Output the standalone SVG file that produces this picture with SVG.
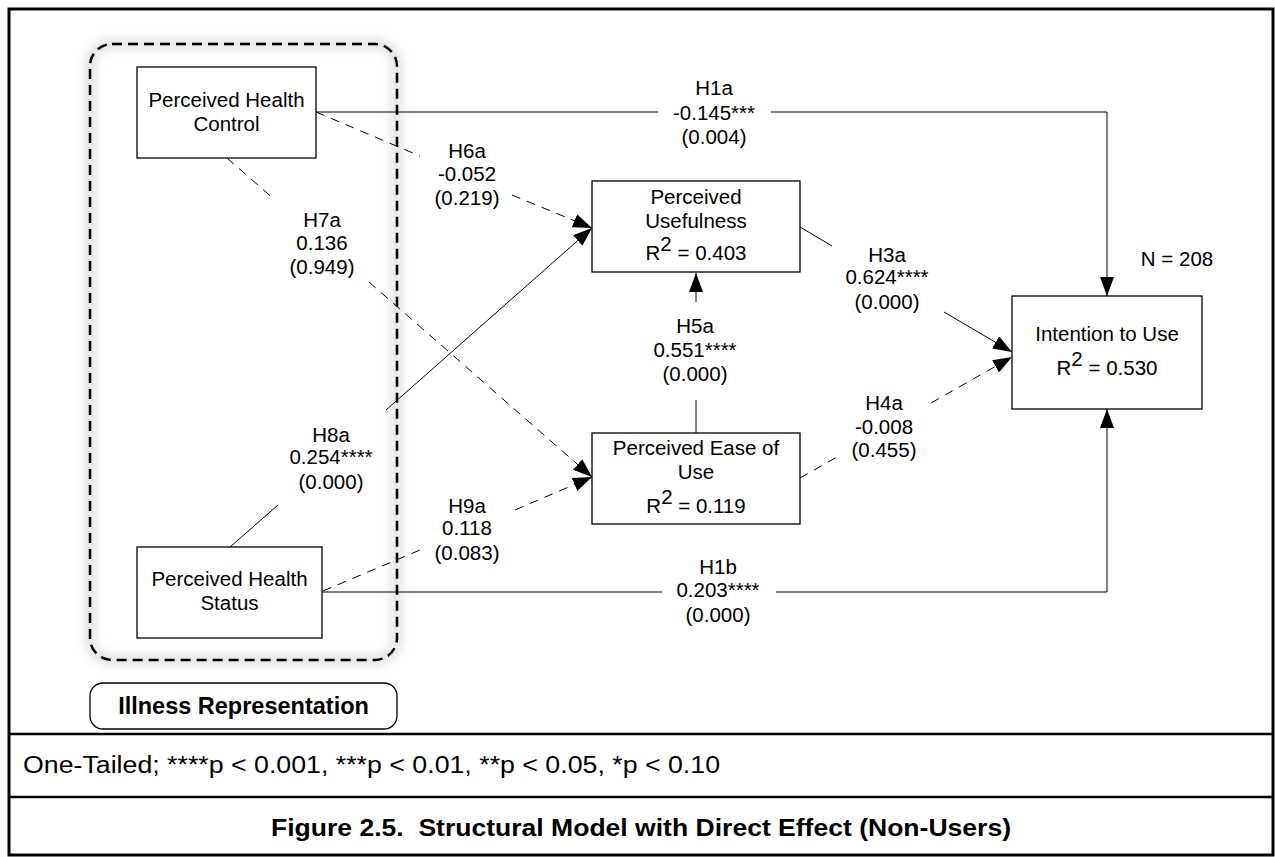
<svg xmlns="http://www.w3.org/2000/svg" width="1275" height="857" viewBox="0 0 1275 857">
<style>
text{font-family:"Liberation Sans",Arial,sans-serif;fill:#000;}
.t{font-size:20.5px;text-anchor:middle;}
.box{fill:#fff;stroke:#000;stroke-width:1.3;}
.ln{fill:none;stroke:#000;stroke-width:1;}
.dl{fill:none;stroke:#000;stroke-width:1;stroke-dasharray:9 7;}
.arr{marker-end:url(#ah);}
</style>
<defs>
<marker id="ah" markerUnits="userSpaceOnUse" markerWidth="20" markerHeight="14" refX="19" refY="7" orient="auto"><path d="M0,0 L19,7 L0,14 z" fill="#000"/></marker>
<filter id="glow" x="-10%" y="-10%" width="120%" height="120%"><feGaussianBlur stdDeviation="5"/></filter>
</defs>
<rect width="1275" height="857" fill="#fff"/>
<g id="frame">
<rect x="9" y="9" width="1264" height="846" fill="none" stroke="#000" stroke-width="3"/>
<line x1="9" y1="734" x2="1273" y2="734" stroke="#000" stroke-width="2.5"/>
<line x1="9" y1="797" x2="1273" y2="797" stroke="#000" stroke-width="2.5"/>
</g>
<g id="illness-group">
<rect x="90" y="44" width="307" height="616" rx="22" fill="none" stroke="#000" stroke-opacity="0.12" stroke-width="10" filter="url(#glow)"/>
<rect x="90" y="44" width="307" height="616" rx="22" fill="none" stroke="#000" stroke-width="2.5" stroke-dasharray="10 6"/>
</g>
<g id="illness-label">
<rect x="90" y="683" width="307" height="46" rx="13" fill="#fff" stroke="#000" stroke-width="1.3"/>
<text x="243.5" y="714" style="font-size:23.5px;font-weight:bold;text-anchor:middle">Illness Representation</text>
</g>
<g id="connectors">
<path class="ln" d="M316,112 H658"/>
<path class="ln arr" d="M771,112 H1107 V296"/>
<path class="ln" d="M322,592 H662"/>
<path class="ln arr" d="M776,592 H1107 V409"/>
<path class="dl" d="M316,112 L420,156"/>
<path class="dl arr" d="M512,195 L592,228"/>
<path class="dl" d="M227,158 L275,200"/>
<path class="dl arr" d="M369,282 L592,477"/>
<path class="ln" d="M230,547 L278,505"/>
<path class="ln arr" d="M386,410 L592,228"/>
<path class="dl" d="M323,591 L420,550"/>
<path class="dl arr" d="M515,510 L592,477"/>
<path class="ln" d="M800,227 L832,246"/>
<path class="ln arr" d="M944,312 L1012,352"/>
<path class="dl" d="M800,478 L837,457"/>
<path class="dl arr" d="M931,403 L1012,357"/>
<path class="ln" d="M696,433 V400"/>
<path class="ln arr" d="M696,302 V273"/>
</g>
<g id="node-phc">
<rect class="box" x="137" y="67" width="179" height="91"/>
<text class="t" x="226.5" y="107">Perceived Health</text>
<text class="t" x="226.5" y="131">Control</text>
</g>
<g id="node-phs">
<rect class="box" x="137" y="547" width="185" height="91"/>
<text class="t" x="229.5" y="586">Perceived Health</text>
<text class="t" x="229.5" y="610">Status</text>
</g>
<g id="node-pu">
<rect class="box" x="592" y="181" width="208" height="91"/>
<text class="t" x="696" y="204">Perceived</text>
<text class="t" x="696" y="228">Usefulness</text>
<text class="t" x="696" y="260">R<tspan dy="-9">2</tspan><tspan dy="9"> = 0.403</tspan></text>
</g>
<g id="node-peou">
<rect class="box" x="592" y="433" width="208" height="91"/>
<text class="t" x="696" y="455">Perceived Ease of</text>
<text class="t" x="696" y="479">Use</text>
<text class="t" x="696" y="513">R<tspan dy="-9">2</tspan><tspan dy="9"> = 0.119</tspan></text>
</g>
<g id="node-itu">
<rect class="box" x="1012" y="296" width="190" height="113"/>
<text class="t" x="1107" y="341">Intention to Use</text>
<text class="t" x="1107" y="375">R<tspan dy="-9">2</tspan><tspan dy="9"> = 0.530</tspan></text>
</g>
<g id="labels">
<text class="t" x="1177" y="266">N = 208</text>
<text class="t" x="714" y="95">H1a</text><text class="t" x="714" y="120">-0.145***</text><text class="t" x="714" y="144">(0.004)</text>
<text class="t" x="467" y="158">H6a</text><text class="t" x="467" y="181">-0.052</text><text class="t" x="467" y="205">(0.219)</text>
<text class="t" x="322" y="227">H7a</text><text class="t" x="322" y="250">0.136</text><text class="t" x="322" y="274">(0.949)</text>
<text class="t" x="887" y="262">H3a</text><text class="t" x="887" y="284">0.624****</text><text class="t" x="887" y="309">(0.000)</text>
<text class="t" x="695" y="333">H5a</text><text class="t" x="695" y="357">0.551****</text><text class="t" x="695" y="381">(0.000)</text>
<text class="t" x="331" y="442">H8a</text><text class="t" x="331" y="464">0.254****</text><text class="t" x="331" y="489">(0.000)</text>
<text class="t" x="884" y="410">H4a</text><text class="t" x="884" y="434">-0.008</text><text class="t" x="884" y="457">(0.455)</text>
<text class="t" x="467" y="513">H9a</text><text class="t" x="467" y="535">0.118</text><text class="t" x="467" y="560">(0.083)</text>
<text class="t" x="718" y="574">H1b</text><text class="t" x="718" y="597">0.203****</text><text class="t" x="718" y="622">(0.000)</text>
</g>
<g id="footnote">
<text x="23" y="773" style="font-size:23px" textLength="697" lengthAdjust="spacingAndGlyphs">One-Tailed; ****p &lt; 0.001, ***p &lt; 0.01, **p &lt; 0.05, *p &lt; 0.10</text>
</g>
<g id="caption">
<text x="271" y="836" style="font-size:23px;font-weight:bold" textLength="740" lengthAdjust="spacingAndGlyphs">Figure 2.5.&#160; Structural Model with Direct Effect (Non-Users)</text>
</g>
</svg>
